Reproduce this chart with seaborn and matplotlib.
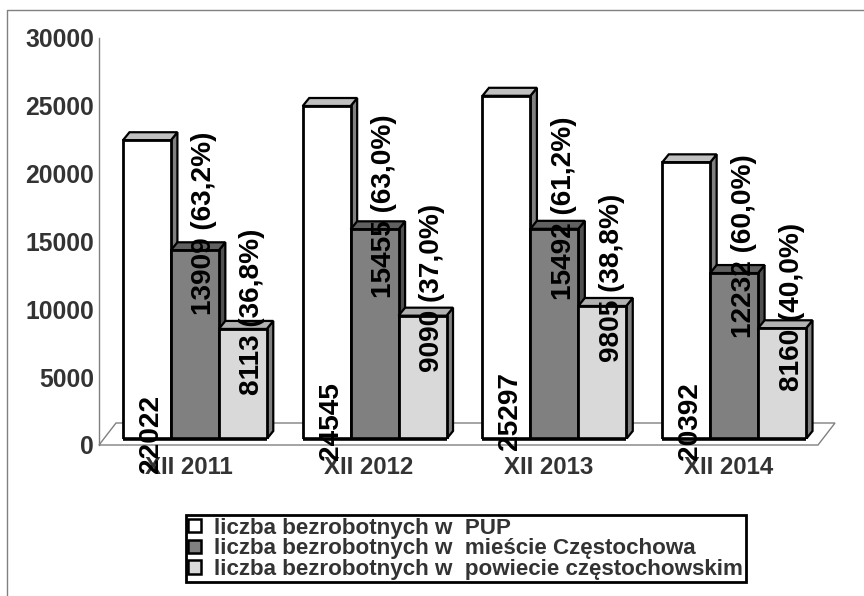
import matplotlib
matplotlib.use("Agg")
import matplotlib.pyplot as plt
import pandas as pd
import seaborn as sns
from matplotlib.lines import Line2D
from matplotlib.patches import Patch, Polygon

years = ["XII 2011", "XII 2012", "XII 2013", "XII 2014"]
series_names = [
    "liczba bezrobotnych w  PUP",
    "liczba bezrobotnych w  mieście Częstochowa",
    "liczba bezrobotnych w  powiecie częstochowskim",
]
pup = [22022, 24545, 25297, 20392]
miasto = [13909, 15455, 15492, 12232]
powiat = [8113, 9090, 9805, 8160]
miasto_pct = ["63,2", "63,0", "61,2", "60,0"]
powiat_pct = ["36,8", "37,0", "38,8", "40,0"]
y_ticks = [0, 5000, 10000, 15000, 20000, 25000, 30000]

# where the rotated labels start (moved by hand in the original)
pup_label_y = [-2500, -1550, -810, -1550]
miasto_label_y = [9140, 10390, 10240, 7440]
powiat_label_y = [3240, 4940, 5670, 3540]

front = ["#ffffff", "#808080", "#d9d9d9"]
top = ["#c0c0c0", "#606060", "#b2b2b2"]
side = ["#808080", "#505050", "#808080"]

W, H = 864, 596
left, right, floor_y, top_y = 99, 818, 445, 38
shift = 6
depth_x, depth_y = 6.5, 8

sns.set_theme(style="white")
plt.rcParams["font.family"] = ["Liberation Sans", "DejaVu Sans"]
plt.rcParams["font.weight"] = "bold"

df = pd.DataFrame({
    "rok": years * 3,
    "seria": [n for n in series_names for _ in years],
    "liczba": pup + miasto + powiat,
})

fig = plt.figure(figsize=(W / 100, H / 100), dpi=100)

# outer chart frame
fig.add_artist(Line2D([7 / W, 7 / W, 1], [0, 1 - 10 / H, 1 - 10 / H], color="#808080", lw=1))

ax_w, ax_h = (right - left) / W, (floor_y - top_y) / H
wall = fig.add_axes([left / W, 1 - floor_y / H, ax_w, ax_h])
bars_ax = fig.add_axes([(left + shift) / W, 1 - (floor_y - shift) / H, ax_w, ax_h])

# wall with the axis and the floor
wall.set_xlim(-0.5, 3.5)
wall.set_ylim(0, 30000)
wall.set_xticks(range(4), years)
wall.set_yticks(y_ticks, [str(t) for t in y_ticks])
wall.tick_params(axis="x", length=0, pad=8, labelsize=17.3, labelcolor="#333333")
wall.tick_params(axis="y", length=0, pad=3.5, labelsize=17.8, labelcolor="#333333")
for name, spine in wall.spines.items():
    spine.set_visible(name == "left")
    spine.set_color("#808080")
    spine.set_linewidth(1)
fx, fy = 17 / (right - left), 22 / (floor_y - top_y)
wall.add_patch(Polygon([(0, 0), (fx, fy), (1 + fx, fy), (1, 0)], closed=True, fill=False,
                       edgecolor="#808080", lw=1, transform=wall.transAxes, clip_on=False))

sns.barplot(data=df, x="rok", y="liczba", hue="seria", order=years, hue_order=series_names,
            palette=front, saturation=1, width=0.8, gap=0, edgecolor="black", linewidth=2,
            legend=False, ax=bars_ax)
bars_ax.set_xlim(-0.5, 3.5)
bars_ax.set_ylim(0, 30000)
bars_ax.set_axis_off()

# fake 3D depth on each bar
dx = depth_x * 4 / (right - left)
dy = depth_y * 30000 / (floor_y - top_y)
for i, bar in enumerate(list(bars_ax.patches)):
    s = i // 4
    x0, x1, h = bar.get_x(), bar.get_x() + bar.get_width(), bar.get_height()
    z = 3 + s * 2
    bar.set_zorder(z + 1)
    bars_ax.add_patch(Polygon([(x1, 0), (x1 + dx, dy), (x1 + dx, h + dy), (x1, h)], closed=True,
                              facecolor=side[s], edgecolor="black", lw=1.6, zorder=z))
    bars_ax.add_patch(Polygon([(x0, h), (x0 + dx, h + dy), (x1 + dx, h + dy), (x1, h)], closed=True,
                              facecolor=top[s], edgecolor="black", lw=1.6, zorder=z))
    # heavier base line, as in the reference
    bars_ax.plot([x0, x1], [0, 0], color="black", lw=2.6, zorder=z + 1, clip_on=False,
                 solid_capstyle="butt")

# data labels
label_style = dict(rotation=90, ha="center", va="bottom", fontsize=20.2, color="black",
                   zorder=20, clip_on=False)
bw = 0.8 / 3
for k in range(4):
    bars_ax.text(k - bw + 0.08 * bw, pup_label_y[k], str(pup[k]), **label_style)
    bars_ax.text(k + 0.2 * bw, miasto_label_y[k], f"{miasto[k]} ({miasto_pct[k]}%)", **label_style)
    bars_ax.text(k + bw + 0.2 * bw, powiat_label_y[k], f"{powiat[k]} ({powiat_pct[k]}%)", **label_style)

handles = [Patch(facecolor=c, edgecolor="black", lw=1.8) for c in front]
leg = fig.legend(handles, series_names, loc="lower left", bbox_to_anchor=(186 / W, 1 - 582 / H),
                 ncol=1, fontsize=16.15, frameon=True, fancybox=False, framealpha=1, edgecolor="black",
                 handlelength=0.55, handleheight=0.55, handletextpad=0.62, labelspacing=-0.02,
                 borderpad=0.1, borderaxespad=0, labelcolor="#333333")
leg.get_frame().set_linewidth(2)

fig.savefig("out.png", dpi=100)
